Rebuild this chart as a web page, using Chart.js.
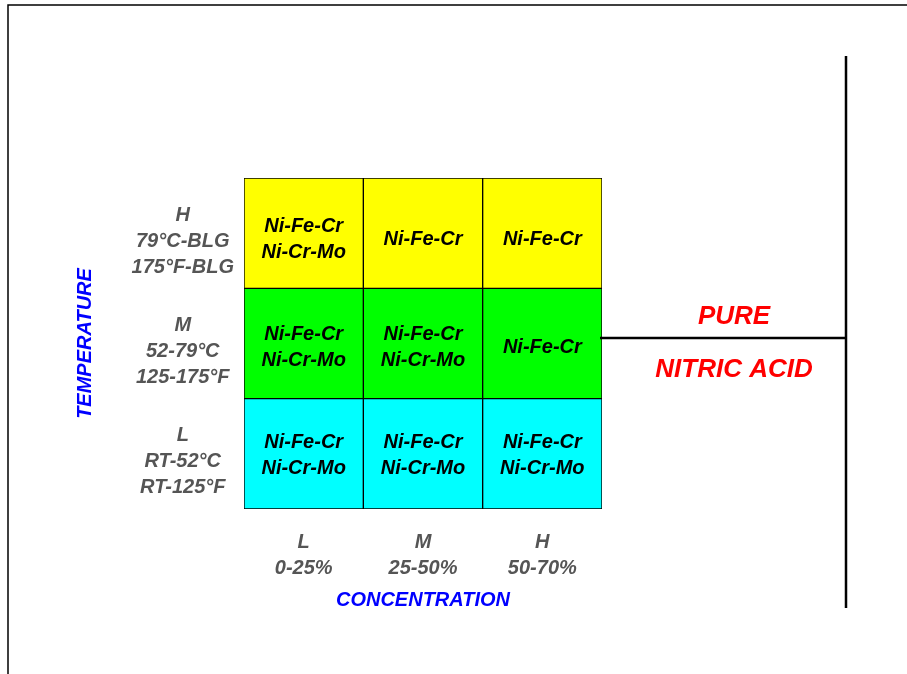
<!DOCTYPE html>
<html lang="en">
<head>
    <meta charset="UTF-8">
    <title>Nitric Acid Alloy Selection</title>
    <script src="https://cdn.jsdelivr.net/npm/chart.js"></script>
    <style>
        html, body {
            margin: 0;
            padding: 0;
            background: #ffffff;
        }
        .chart-box {
            width: 907px;
            height: 674px;
            position: relative;
        }
    </style>
</head>
<body>
<div class="chart-box">
    <canvas id="alloy-chart"></canvas>
</div>

<script>
    // concentration categories (x axis)
    const concentrationLabels = [['L', '0-25%'], ['M', '25-50%'], ['H', '50-70%']];
    // temperature bands, bottom to top (y axis)
    const temperatureLabels = [
        ['L', 'RT-52°C', 'RT-125°F'],
        ['M', '52-79°C', '125-175°F'],
        ['H', '79°C-BLG', '175°F-BLG']
    ];
    const bandColors = ['#00ffff', '#00ff00', '#ffff00'];
    const bandSize = [1, 1, 1];

    // suitable alloys per cell: rows are temperature bands (L, M, H), columns are concentration
    const lowTempAlloys = [['Ni-Fe-Cr', 'Ni-Cr-Mo'], ['Ni-Fe-Cr', 'Ni-Cr-Mo'], ['Ni-Fe-Cr', 'Ni-Cr-Mo']];
    const midTempAlloys = [['Ni-Fe-Cr', 'Ni-Cr-Mo'], ['Ni-Fe-Cr', 'Ni-Cr-Mo'], ['Ni-Fe-Cr']];
    const highTempAlloys = [['Ni-Fe-Cr', 'Ni-Cr-Mo'], ['Ni-Fe-Cr'], ['Ni-Fe-Cr']];
    const cellAlloys = [lowTempAlloys, midTempAlloys, highTempAlloys];

    const sideNote = ['PURE', 'NITRIC ACID'];

    const FONT = '"Liberation Sans", Arial, sans-serif';

    const cellTextPlugin = {
        id: 'cellText',
        afterDatasetsDraw(chart) {
            const ctx = chart.ctx;
            ctx.save();
            ctx.font = 'italic bold 20px ' + FONT;
            ctx.fillStyle = '#000000';
            ctx.textAlign = 'center';
            ctx.textBaseline = 'middle';
            chart.data.datasets.forEach((ds, di) => {
                const meta = chart.getDatasetMeta(di);
                meta.data.forEach((bar, i) => {
                    const p = bar.getProps(['x', 'y', 'base'], true);
                    const cy = (p.y + p.base) / 2 + 2 + di * 2;
                    const lines = cellAlloys[di][i];
                    const lh = 26;
                    lines.forEach((t, k) => {
                        ctx.fillText(t, p.x, cy + (k - (lines.length - 1) / 2) * lh);
                    });
                });
            });
            ctx.restore();
        }
    };

    const framePlugin = {
        id: 'frame',
        afterDraw(chart) {
            const ctx = chart.ctx;
            const area = chart.chartArea;
            const y = chart.scales.y;
            ctx.save();
            // outer frame
            ctx.strokeStyle = '#000000';
            ctx.lineWidth = 1.5;
            ctx.beginPath();
            ctx.moveTo(8, chart.height);
            ctx.lineTo(8, 5);
            ctx.lineTo(chart.width, 5);
            ctx.stroke();

            // bracket line pointing at the grid
            const lineX = 846;
            const midY = y.getPixelForValue(1.55);
            ctx.lineWidth = 2.5;
            ctx.beginPath();
            ctx.moveTo(lineX, 56);
            ctx.lineTo(lineX, 608);
            ctx.moveTo(area.right - 2, midY);
            ctx.lineTo(lineX, midY);
            ctx.stroke();

            ctx.font = 'italic bold 26px ' + FONT;
            ctx.fillStyle = '#ff0000';
            ctx.textAlign = 'center';
            ctx.textBaseline = 'middle';
            const cx = (area.right + lineX) / 2 + 10;
            ctx.fillText(sideNote[0], cx, midY - 21);
            ctx.fillText(sideNote[1], cx, midY + 32);
            ctx.restore();
        }
    };

    const datasets = temperatureLabels.map((t, i) => ({
        label: t[0],
        data: concentrationLabels.map(() => bandSize[i]),
        backgroundColor: bandColors[i],
        borderColor: '#000000',
        borderWidth: 1,
        borderSkipped: false,
        barPercentage: 1,
        categoryPercentage: 1
    }));

    new Chart(document.getElementById('alloy-chart'), {
        type: 'bar',
        data: {
            labels: concentrationLabels,
            datasets: datasets
        },
        options: {
            responsive: true,
            maintainAspectRatio: false,
            animation: false,
            layout: { padding: { left: 0, top: 178, right: 305, bottom: 0 } },
            plugins: {
                legend: { display: false },
                tooltip: { enabled: false }
            },
            scales: {
                x: {
                    stacked: true,
                    grid: { display: false, drawTicks: false },
                    border: { display: false },
                    ticks: {
                        color: '#555555',
                        padding: 20,
                        font: { family: FONT, size: 20, style: 'italic', weight: 'bold', lineHeight: 1.3 }
                    },
                    title: {
                        display: true,
                        text: 'CONCENTRATION',
                        color: '#0000ff',
                        align: 'center',
                        padding: { top: 62, bottom: 62 },
                        font: { family: FONT, size: 20, style: 'italic', weight: 'bold', lineHeight: 1.2 }
                    },
                    afterFit(scale) { scale.height = 165; }
                },
                y: {
                    stacked: true,
                    min: 0,
                    max: 3,
                    grid: { display: false, drawTicks: false },
                    border: { display: false },
                    afterBuildTicks(scale) {
                        scale.ticks = temperatureLabels.map((t, i) => ({ value: i + 0.5 }));
                    },
                    ticks: {
                        color: '#555555',
                        padding: 10,
                        labelOffset: 8,
                        crossAlign: 'center',
                        font: { family: FONT, size: 20, style: 'italic', weight: 'bold', lineHeight: 1.3 },
                        callback(value) {
                            return temperatureLabels[Math.floor(value)];
                        }
                    },
                    title: {
                        display: true,
                        text: 'TEMPERATURE',
                        color: '#0000ff',
                        padding: { top: 73, bottom: 73 },
                        font: { family: FONT, size: 20, style: 'italic', weight: 'bold', lineHeight: 1.2 }
                    },
                    afterFit(scale) { scale.width = 244; }
                }
            }
        },
        plugins: [cellTextPlugin, framePlugin]
    });
</script>
</body>
</html>
